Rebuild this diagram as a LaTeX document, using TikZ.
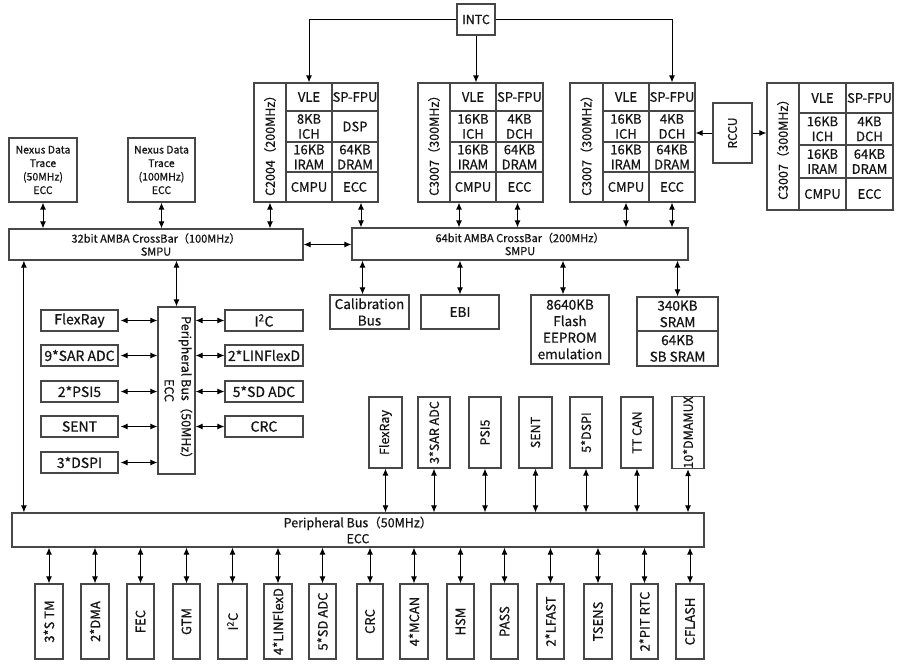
\documentclass[tikz,border=0pt]{standalone}
\usepackage{fontspec}
\setmainfont[FakeBold=0.6]{Noto Sans CJK SC}
\usetikzlibrary{arrows.meta,calc}
\definecolor{lc}{HTML}{474747}
\definecolor{tc}{HTML}{151515}
\newcommand\fsz[2]{\fontsize{#1}{#2}\selectfont}
\newcommand\bx[7][]{%
  \pgfmathsetmacro\bxw{#5-#3}%
  \pgfmathsetmacro\bxh{#6-#4}%
  \node[box,minimum width=\bxw pt,minimum height=\bxh pt,#1] (#2) at ({(#3+#5)/2},{(#4+#6)/2}) {#7};}
\tikzset{
  box/.style={draw=lc,line width=1.2pt,fill=white,inner sep=0pt,align=center,text=tc,font=\fsz{13}{15}},
  dbl/.style={{Latex[length=7pt,width=6pt]}-{Latex[length=7pt,width=6pt]},line width=1pt,draw=black},
  sgl/.style={-{Latex[length=7pt,width=6pt]},line width=1pt,draw=black},
  cell/.style={font=\fsz{13}{15}},
  lbl/.style={font=\fsz{12.5}{14}},
  small/.style={font=\fsz{10.5}{13.5}},
  mid/.style={font=\fsz{13.5}{16.5}},
  per/.style={font=\fsz{14}{16}},
  vper/.style={font=\fsz{12.5}{15}},
  bper/.style={font=\fsz{13}{15}},
}
\begin{document}
\begin{tikzpicture}[x=1pt,y=-1pt]
\useasboundingbox (0,0) rectangle (900,665);
\fill[white] (0,0) rectangle (900,665);

% INTC
\bx[font=\fsz{12.5}{15}]{intc}{457}{4}{495}{35}{INTC}

% Core 1
\bx[lbl]{c1lbl}{254}{83}{286}{202}{\rotatebox{90}{C2004（200MHz）}}
\bx[cell]{c1vle}{286}{83}{332}{111}{VLE}
\bx[cell]{c1fpu}{332}{83}{378}{111}{SP-FPU}
\bx[cell]{c1ich}{286}{111}{332}{142}{8KB\\ICH}
\bx[cell]{c1dsp}{332}{111}{378}{142}{DSP}
\bx[cell]{c1iram}{286}{142}{332}{172}{16KB\\IRAM}
\bx[cell]{c1dram}{332}{142}{378}{172}{64KB\\DRAM}
\bx[cell]{c1cmpu}{286}{172}{332}{202}{CMPU}
\bx[cell]{c1ecc}{332}{172}{378}{202}{ECC}

% Core 2
\bx[lbl]{c2lbl}{418}{83}{450}{202}{\rotatebox{90}{C3007（300MHz）}}
\bx[cell]{c2vle}{450}{83}{496}{111}{VLE}
\bx[cell]{c2fpu}{496}{83}{543}{111}{SP-FPU}
\bx[cell]{c2ich}{450}{111}{496}{142}{16KB\\ICH}
\bx[cell]{c2dch}{496}{111}{543}{142}{4KB\\DCH}
\bx[cell]{c2iram}{450}{142}{496}{172}{16KB\\IRAM}
\bx[cell]{c2dram}{496}{142}{543}{172}{64KB\\DRAM}
\bx[cell]{c2cmpu}{450}{172}{496}{202}{CMPU}
\bx[cell]{c2ecc}{496}{172}{543}{202}{ECC}

% Core 3
\bx[lbl]{c3lbl}{570}{83}{603}{202}{\rotatebox{90}{C3007（300MHz）}}
\bx[cell]{c3vle}{603}{83}{649}{111}{VLE}
\bx[cell]{c3fpu}{649}{83}{695}{111}{SP-FPU}
\bx[cell]{c3ich}{603}{111}{649}{142}{16KB\\ICH}
\bx[cell]{c3dch}{649}{111}{695}{142}{4KB\\DCH}
\bx[cell]{c3iram}{603}{142}{649}{172}{16KB\\IRAM}
\bx[cell]{c3dram}{649}{142}{695}{172}{64KB\\DRAM}
\bx[cell]{c3cmpu}{603}{172}{649}{202}{CMPU}
\bx[cell]{c3ecc}{649}{172}{695}{202}{ECC}

% Core 4
\bx[lbl]{c4lbl}{767}{83}{799}{210}{\rotatebox{90}{C3007（300MHz）}}
\bx[cell]{c4vle}{799}{83}{846}{113}{VLE}
\bx[cell]{c4fpu}{846}{83}{893}{113}{SP-FPU}
\bx[cell]{c4ich}{799}{113}{846}{145}{16KB\\ICH}
\bx[cell]{c4dch}{846}{113}{893}{145}{4KB\\DCH}
\bx[cell]{c4iram}{799}{145}{846}{178}{16KB\\IRAM}
\bx[cell]{c4dram}{846}{145}{893}{178}{64KB\\DRAM}
\bx[cell]{c4cmpu}{799}{178}{846}{210}{CMPU}
\bx[cell]{c4ecc}{846}{178}{893}{210}{ECC}

% RCCU
\bx[font=\fsz{12}{14}]{rccu}{713}{103}{752}{163}{\rotatebox{90}{RCCU}}

% INTC connectors
\draw[sgl] (intc.west) -| (c1vle.north);
\draw[sgl] (intc.south) -- (intc.south |- c2vle.north);
\draw[sgl] (intc.east) -| (c3fpu.north);
% RCCU connectors
\draw[sgl] (rccu.west) -- (rccu.west -| c3dch.east);
\draw[sgl] (rccu.east) -- (rccu.east -| c4lbl.west);

% Nexus
\bx[small]{nex1}{9}{138}{77}{202}{Nexus Data\\Trace\\(50MHz)\\ECC}
\bx[small]{nex2}{128}{138}{195}{202}{Nexus Data\\Trace\\(100MHz)\\ECC}

% Crossbars
\bx[font=\fsz{11}{13}]{xb32}{9}{229}{303}{260}{32bit AMBA CrossBar（100MHz）\\SMPU}
\bx[font=\fsz{11}{13}]{xb64}{352}{228}{688}{260}{64bit AMBA CrossBar（200MHz）\\SMPU}

\draw[dbl] (nex1.south) -- (nex1.south |- xb32.north);
\draw[dbl] (nex2.south) -- (nex2.south |- xb32.north);
\draw[dbl] (c1lbl.south) -- (c1lbl.south |- xb32.north);
\draw[dbl] ([xshift=6pt]c1ecc.south) -- ([xshift=6pt]c1ecc.south |- xb64.north);
\draw[dbl] ([xshift=-14pt]c2cmpu.south) -- ([xshift=-14pt]c2cmpu.south |- xb64.north);
\draw[dbl] ([xshift=-2pt]c2ecc.south) -- ([xshift=-2pt]c2ecc.south |- xb64.north);
\draw[dbl] (c3cmpu.south) -- (c3cmpu.south |- xb64.north);
\draw[dbl] (c3ecc.south) -- (c3ecc.south |- xb64.north);
\draw[dbl] (xb32.east) -- (xb32.east -| xb64.west);

% Below 64bit crossbar
\bx[mid]{calib}{330}{295}{409}{329}{Calibration\\Bus}
\bx[mid]{ebi}{421}{295}{499}{329}{EBI}
\bx[mid]{flash}{531}{295}{609}{364}{8640KB\\Flash\\EEPROM\\emulation}
\bx[mid]{sram}{637}{297}{718}{331}{340KB\\SRAM}
\bx[mid]{sbsram}{637}{331}{718}{366}{64KB\\SB SRAM}
\draw[dbl] ([xshift=-7pt]calib.north) -- ([xshift=-7pt]calib.north |- xb64.south);
\draw[dbl] (ebi.north) -- (ebi.north |- xb64.south);
\draw[dbl] ([xshift=-7pt]flash.north) -- ([xshift=-7pt]flash.north |- xb64.south);
\draw[dbl] (sram.north) -- (sram.north |- xb64.south);

% Vertical peripheral bus
\bx[font=\fsz{12.5}{17}]{vpb}{158}{307}{195}{474}{\rotatebox{-90}{\begin{tabular}{@{}c@{}}Peripheral Bus（50MHz）\\ECC\end{tabular}}}
\draw[dbl] (vpb.north) -- (vpb.north |- xb32.south);

\bx[per]{lp1}{41}{310}{118}{331}{FlexRay}
\bx[per]{lp2}{41}{345}{118}{366}{9*SAR ADC}
\bx[per]{lp3}{41}{381}{118}{402}{2*PSI5}
\bx[per]{lp4}{41}{416}{118}{437}{SENT}
\bx[per]{lp5}{41}{452}{118}{473}{3*DSPI}
\bx[per]{rp1}{225}{310}{303}{331}{I\textsuperscript{2}C}
\bx[per]{rp2}{225}{345}{303}{366}{2*LINFlexD}
\bx[per]{rp3}{225}{381}{303}{402}{5*SD ADC}
\bx[per]{rp4}{225}{416}{303}{437}{CRC}
\foreach \n in {lp1,lp2,lp3,lp4,lp5}
  \draw[dbl] ([xshift=2pt]\n.east) -- (\n.east -| vpb.west);
\foreach \n in {rp1,rp2,rp3,rp4}
  \draw[dbl] (\n.west) -- (\n.west -| vpb.east);

% Main peripheral bus
\bx[font=\fsz{12.5}{16}]{pb}{12}{513}{704}{547}{Peripheral Bus（50MHz）\\ECC}
\draw[dbl] ([xshift=15.5pt]xb32.south west) -- ([xshift=15.5pt]xb32.south west |- pb.north);

% Upper peripherals
\foreach \n/\a/\b/\t in {tp1/369/402/FlexRay,tp2/418/450/3*SAR ADC,tp3/469/501/PSI5,tp4/519/552/SENT,tp5/570/602/5*DSPI,tp6/621/653/TT CAN,tp7/672/704/10*DMAMUX}{
  \bx[vper]{\n}{\a}{397}{\b}{468}{\rotatebox{90}{\t}}
  \draw[dbl] (\n.south) -- (\n.south |- pb.north);
}

% Lower peripherals
\foreach \n/\a/\b/\t in {b1/35/63/3*S TM,b2/81/109/2*DMA,b3/127/154/FEC,b4/173/200/GTM,b5/218/247/I\textsuperscript{2}C,b6/264/292/4*LINFlexD,b7/309/336/5*SD ADC,b8/357/383/CRC,b9/400/428/4*MCAN,b10/447/474/HSM,b11/491/518/PASS,b12/537/564/2*LFAST,b13/584/612/TSENS,b14/631/658/2*PIT RTC,b15/676/704/CFLASH}{
  \bx[bper]{\n}{\a}{584}{\b}{659}{\rotatebox{90}{\t}}
  \draw[dbl] (\n.north) -- (\n.north |- pb.south);
}
\end{tikzpicture}
\end{document}
